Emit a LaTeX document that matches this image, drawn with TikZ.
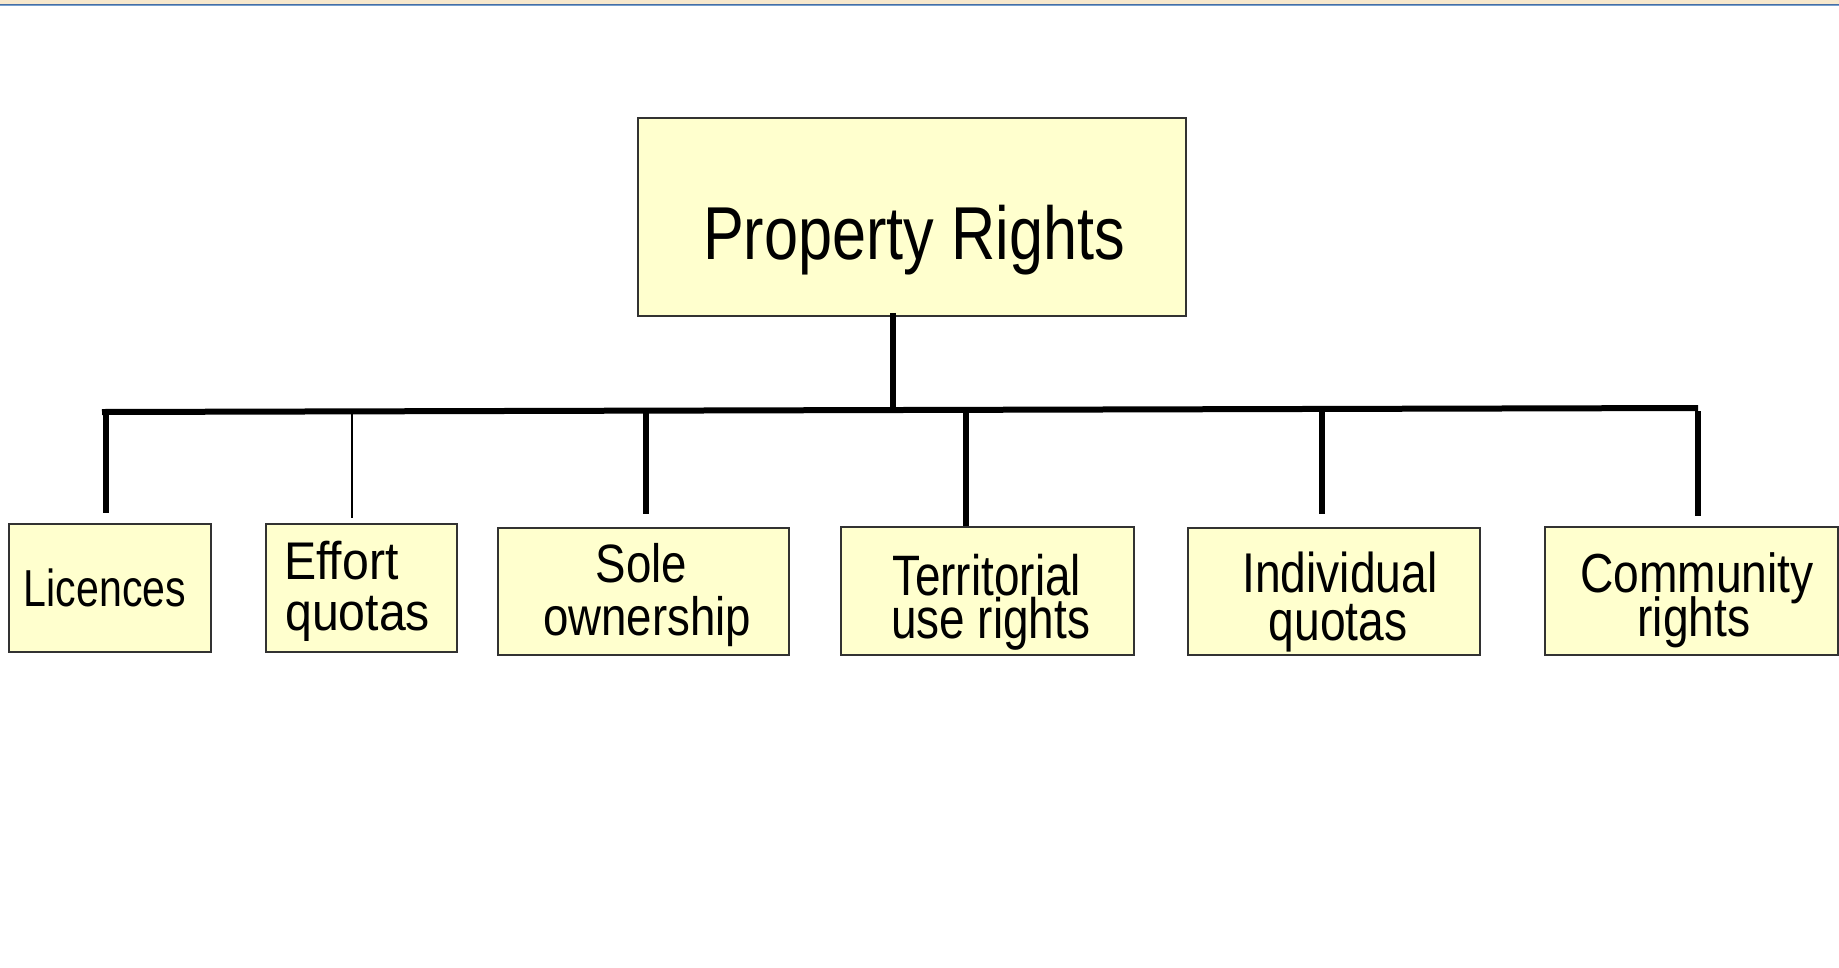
\documentclass[tikz,border=0pt]{standalone}
\usepackage{fontspec}
\setmainfont{Liberation Sans}
\newfontfamily\fPR[FakeStretch=0.816]{Liberation Sans}
\newfontfamily\fLic[FakeStretch=0.79]{Liberation Sans}
\newfontfamily\fEff[FakeStretch=0.91]{Liberation Sans}
\newfontfamily\fSole[FakeStretch=0.845]{Liberation Sans}
\newfontfamily\fTer[FakeStretch=0.805]{Liberation Sans}
\newfontfamily\fInd[FakeStretch=0.825]{Liberation Sans}
\newfontfamily\fCom[FakeStretch=0.84]{Liberation Sans}
\usetikzlibrary{calc}
\definecolor{boxfill}{RGB}{255,255,206}
\definecolor{boxline}{RGB}{50,50,50}
\definecolor{topband}{RGB}{247,232,205}
\definecolor{topblue}{RGB}{70,110,165}
\definecolor{topblue2}{RGB}{120,160,205}
\begin{document}
\begin{tikzpicture}[x=1pt,y=-1pt,
  box/.style={draw=boxline,fill=boxfill,line width=1.6pt,rectangle,inner sep=0pt},
  txt/.style={inner sep=0pt,text=black},
  link/.style={draw=black,line width=6pt},
  thinlink/.style={draw=black,line width=1.4pt}]
\useasboundingbox (0,0) rectangle (1839,967);
\fill[white] (0,0) rectangle (1839,967);
% top strip
\fill[topband] (0,0) rectangle (1839,3.5);
\fill[topblue] (0,3.5) rectangle (1839,5);
\fill[topblue2] (0,5) rectangle (1839,6.2);

% boxes
\node[box,minimum width=548pt,minimum height=198pt] (root) at (912,217) {};
\node[box,minimum width=202pt,minimum height=128pt] (lic) at (110,588) {};
\node[box,minimum width=191pt,minimum height=128pt] (eff) at (361.5,588) {};
\node[box,minimum width=291pt,minimum height=127pt] (sole) at (643.5,591.5) {};
\node[box,minimum width=293pt,minimum height=128pt] (terr) at (987.5,591) {};
\node[box,minimum width=292pt,minimum height=127pt] (ind) at (1334,591.5) {};
\node[box,minimum width=293pt,minimum height=128pt] (com) at (1691.5,591) {};

% texts
\node[txt,anchor=base] (tpr) at (914,259) {\fPR\fontsize{75}{75}\selectfont Property Rights};
\node[txt,anchor=base] (tlic) at (105,606) {\fLic\fontsize{52}{52}\selectfont Licences};
\node[txt,anchor=base west] (teff1) at (284,579) {\fEff\fontsize{53}{53}\selectfont Effort};
\node[txt,anchor=base west] (teff2) at (285,630) {\fEff\fontsize{53}{53}\selectfont quotas};
\node[txt,anchor=base] (tsole1) at (641.5,582) {\fSole\fontsize{54}{54}\selectfont Sole};
\node[txt,anchor=base] (tsole2) at (647,635) {\fSole\fontsize{54}{54}\selectfont ownership};
\node[txt,anchor=base west] (tterr1) at (892,595) {\fTer\fontsize{57}{57}\selectfont Territorial};
\node[txt,anchor=base west] (tterr2) at (891,638) {\fTer\fontsize{57}{57}\selectfont use rights};
\node[txt,anchor=base] (tind1) at (1340,592) {\fInd\fontsize{56}{56}\selectfont Individual};
\node[txt,anchor=base] (tind2) at (1338,640) {\fInd\fontsize{56}{56}\selectfont quotas};
\node[txt,anchor=base] (tcom1) at (1697,592) {\fCom\fontsize{55}{55}\selectfont Community};
\node[txt,anchor=base] (tcom2) at (1694,636) {\fCom\fontsize{55}{55}\selectfont rights};

% connector points
\coordinate (bL) at (102,412);
\coordinate (bR) at (1698,408);
\coordinate (bS) at (893,410);
\coordinate (j1) at (106,412);
\coordinate (j2) at (352,411.5);
\coordinate (j3) at (646,410.5);
\coordinate (j4) at (966,409.8);
\coordinate (j5) at (1322,409);
\coordinate (j6) at (1698,408);
\coordinate (e1) at (106,513);
\coordinate (e2) at (352,518);
\coordinate (e3) at (646,514);
\coordinate (e5) at (1322,514);
\coordinate (e6) at (1698,516);

% connectors
\draw[link] ($(root.south)+(-19,-4)$) -- (bS);
\draw[link] (bL) -- (bR);
\draw[link] ([yshift=-3pt]j1) -- (e1);
\draw[thinlink] (j2) -- (e2);
\draw[link] (j3) -- (e3);
\draw[link] (j4) -- ($(terr.north)+(-21.5,0)$);
\draw[link] (j5) -- (e5);
\draw[link] ([yshift=-3pt]j6) -- (e6);
\end{tikzpicture}
\end{document}
